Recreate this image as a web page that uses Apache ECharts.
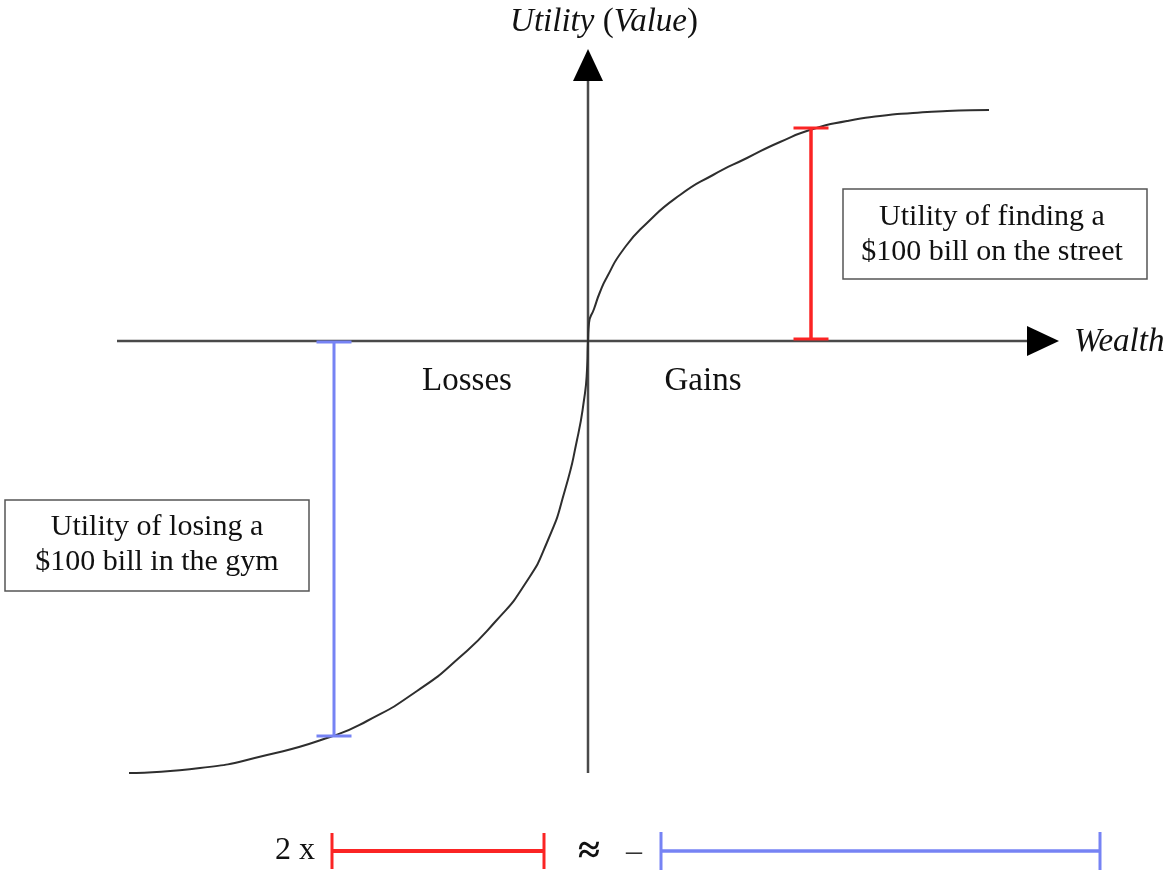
<!DOCTYPE html>
<html>
<head>
<meta charset="utf-8">
<script src="https://cdn.jsdelivr.net/npm/echarts@6/dist/echarts.min.js"></script>
<style>
html,body{margin:0;padding:0;background:#fff;}
#chart{width:1170px;height:886px;}
</style>
</head>
<body>
<div id="chart"></div>
<script>
// Value-function curve (wealth, utility)
const curveWealth  = [-45.9,-38.8,-32.1,-25.8,-22.1,-17.1,-12.8,-9.3,-6.3,-4.0,-2.3,-1.1,-0.4,-0.1,0,0.1,0.6,1.2,1.9,3.5,5.9,9.2,12.5,15.9,19.2,22.5,25.9,29.2,32.5,35.9,40.1];
const curveUtility = [-43.2,-42.7,-41.4,-39.6,-38.0,-35.0,-31.6,-28.1,-24.3,-19.9,-14.9,-9.9,-5.9,-2.9,0,1.8,3.2,4.9,6.4,9.1,11.8,14.6,16.6,18.3,19.9,21.2,22.0,22.5,22.8,23.0,23.1];
// Axes extents
const wealthAxis  = [[-47.1, 0], [45.5, 0]];
const utilityAxis = [[0, -43.2], [0, 27.6]];
// Utility bars
const gainBar = [[22.3, 0.2], [22.3, 21.3]];
const lossBar = [[-25.4, -0.1], [-25.4, -39.5]];
// Comparison bars at the bottom
const gainCompare = [[-25.6, -51.0], [-4.4, -51.0]];
const lossCompare = [[7.3, -51.0], [51.2, -51.0]];
// Texts
const titleParts = ['Utility', 'Value'];
const xLabel = 'Wealth';
const regionLabels = ['Losses', 'Gains'];
const gainNote = ['Utility of finding a', '$100 bill on the street'];
const lossNote = ['Utility of losing a', '$100 bill in the gym'];
const compareTexts = ['2 x', '≈', '–'];

const RED = '#fb2424';
const BLUE = '#7683f4';
const FONT = '"Liberation Serif", "Times New Roman", serif';

const chart = echarts.init(document.getElementById('chart'), null, {renderer: 'canvas'});

function arrowSeries(data, rot) {
  return {
    type: 'line', data: data, silent: true, animation: false,
    lineStyle: {color: '#4a4a4a', width: 2.5},
    symbol: (v, p) => p.dataIndex === 1 ? 'triangle' : 'none',
    symbolSize: [30, 32],
    symbolRotate: rot,
    itemStyle: {color: '#000'},
    showAllSymbol: true, z: 2
  };
}
function barSeries(data, color, size, width) {
  return {
    type: 'line', data: data, silent: true, animation: false,
    lineStyle: {color: color, width: width},
    symbol: 'rect', symbolSize: size,
    itemStyle: {color: color},
    showAllSymbol: true, z: 4
  };
}

const option = {
  animation: false,
  grid: {left: 0, right: 0, top: 0, bottom: 0, containLabel: false},
  xAxis: {type: 'value', min: -58.8, max: 58.2, show: false},
  yAxis: {type: 'value', min: -54.5, max: 34.1, show: false},
  series: [
    arrowSeries(wealthAxis, -90),
    arrowSeries(utilityAxis, 0),
    {
      type: 'line', silent: true, animation: false,
      data: curveWealth.map((x, i) => [x, curveUtility[i]]),
      smooth: 0.6, showSymbol: false, symbol: 'none',
      lineStyle: {color: '#2e2e2e', width: 2}, z: 3
    },
    barSeries(gainBar, RED, [35, 3], 3.5),
    barSeries(lossBar, BLUE, [35, 3], 3),
    barSeries(gainCompare, RED, [3, 36], 4),
    barSeries(lossCompare, BLUE, [3, 38], 3.5)
  ],
  graphic: [
    {type: 'text', x: 604, y: 22, style: {
      text: '{i|' + titleParts[0] + '} (' + '{i|' + titleParts[1] + '})',
      font: '33px ' + FONT, fill: '#111', align: 'center', verticalAlign: 'middle',
      rich: {i: {fontStyle: 'italic', fontSize: 33, fontFamily: FONT}}
    }},
    {type: 'text', x: 1074, y: 342, style: {
      text: xLabel, font: 'italic 33px ' + FONT, fill: '#111', align: 'left', verticalAlign: 'middle'
    }},
    {type: 'text', x: 467, y: 381, style: {
      text: regionLabels[0], font: '33px ' + FONT, fill: '#111', align: 'center', verticalAlign: 'middle'
    }},
    {type: 'text', x: 703, y: 381, style: {
      text: regionLabels[1], font: '33px ' + FONT, fill: '#111', align: 'center', verticalAlign: 'middle'
    }},
    {type: 'rect', shape: {x: 843, y: 189, width: 304, height: 90},
      style: {fill: '#fff', stroke: '#555', lineWidth: 1.5}},
    {type: 'text', x: 992, y: 235, style: {
      text: gainNote.join('\n'), font: '30px ' + FONT, fill: '#111', align: 'center', verticalAlign: 'middle', lineHeight: 35
    }},
    {type: 'rect', shape: {x: 5, y: 500, width: 304, height: 91},
      style: {fill: '#fff', stroke: '#555', lineWidth: 1.5}},
    {type: 'text', x: 157, y: 545, style: {
      text: lossNote.join('\n'), font: '30px ' + FONT, fill: '#111', align: 'center', verticalAlign: 'middle', lineHeight: 35
    }},
    {type: 'text', x: 295, y: 851, style: {
      text: compareTexts[0], font: '32px ' + FONT, fill: '#111', align: 'center', verticalAlign: 'middle'
    }},
    {type: 'text', x: 589, y: 853, style: {
      text: compareTexts[1], font: 'bold 40px ' + FONT, fill: '#111', align: 'center', verticalAlign: 'middle'
    }},
    {type: 'text', x: 634, y: 853, style: {
      text: compareTexts[2], font: '32px ' + FONT, fill: '#333', align: 'center', verticalAlign: 'middle'
    }}
  ]
};
chart.setOption(option);
</script>
</body>
</html>
